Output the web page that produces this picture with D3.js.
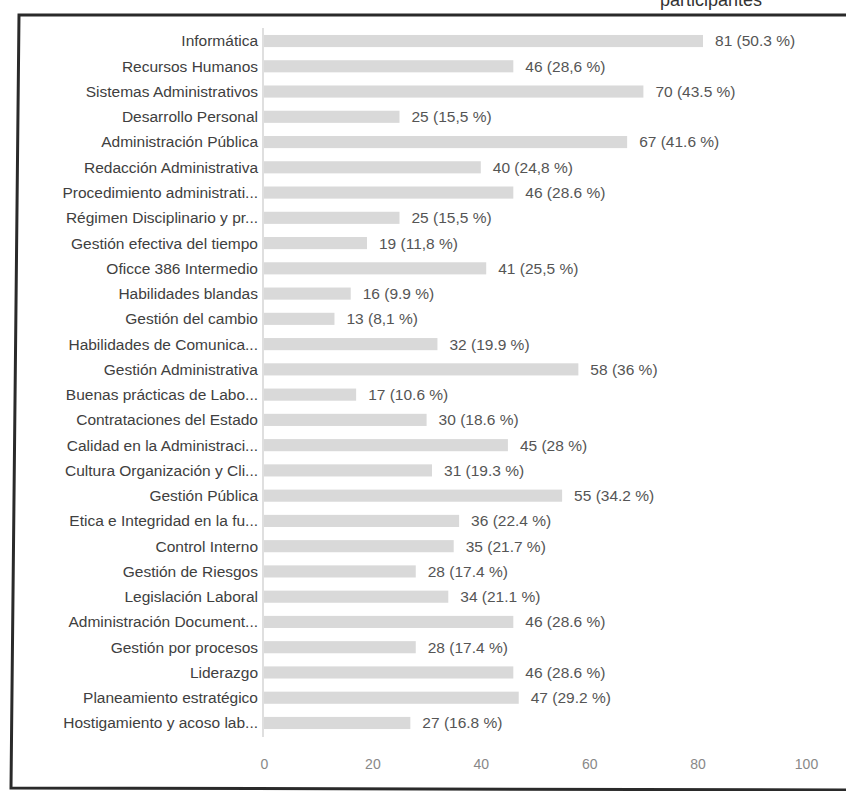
<!DOCTYPE html>
<html>
<head>
<meta charset="utf-8">
<script src="https://cdn.jsdelivr.net/npm/d3@7"></script>
<style>
  html, body { margin: 0; padding: 0; background: #fff; }
  svg { display: block; }
</style>
</head>
<body>
<div id="chart"></div>
<script>
const categories = [
  "Informática", "Recursos Humanos", "Sistemas Administrativos", "Desarrollo Personal",
  "Administración Pública", "Redacción Administrativa", "Procedimiento administrati...",
  "Régimen Disciplinario y pr...", "Gestión efectiva del tiempo", "Oficce 386 Intermedio",
  "Habilidades blandas", "Gestión del cambio", "Habilidades de Comunica...",
  "Gestión Administrativa", "Buenas prácticas de Labo...", "Contrataciones del Estado",
  "Calidad en la Administraci...", "Cultura Organización y Cli...", "Gestión Pública",
  "Etica e Integridad en la fu...", "Control Interno", "Gestión de Riesgos",
  "Legislación Laboral", "Administración Document...", "Gestión por procesos",
  "Liderazgo", "Planeamiento estratégico", "Hostigamiento y acoso lab..."
];
const counts = [81, 46, 70, 25, 67, 40, 46, 25, 19, 41, 16, 13, 32, 58, 17, 30, 45, 31, 55, 36, 35, 28, 34, 46, 28, 46, 47, 27];
const percents = ["50.3", "28,6", "43.5", "15,5", "41.6", "24,8", "28.6", "15,5", "11,8", "25,5", "9.9", "8,1", "19.9", "36", "10.6", "18.6", "28", "19.3", "34.2", "22.4", "21.7", "17.4", "21.1", "28.6", "17.4", "28.6", "29.2", "16.8"];
const tickValues = [0, 20, 40, 60, 80, 100];

const W = 846, H = 791;
const svg = d3.select("#chart").append("svg").attr("width", W).attr("height", H);
const font = "'Liberation Sans', Arial, sans-serif";

// cropped title fragment at the top (scan edge)
svg.append("text").attr("x", 660).attr("y", 6)
  .attr("font-family", font).attr("font-size", 18).attr("fill", "#333")
  .text("participantes");

// scanned frame
svg.append("path")
  .attr("d", "M 852 15 L 19 15 L 11 788 L 852 790")
  .attr("fill", "none").attr("stroke", "#2a2a2a").attr("stroke-width", 3);

const x = d3.scaleLinear().domain([0, 100]).range([264, 806]);
const y = d3.scaleBand().domain(categories).range([28.4, 735.6]).paddingInner(0.52).paddingOuter(0.26);

// vertical baseline
svg.append("line").attr("x1", 263).attr("x2", 263).attr("y1", 28).attr("y2", 737)
  .attr("stroke", "#d4d4d4").attr("stroke-width", 1.5);

const rows = categories.map((c, i) => ({ c, v: counts[i], p: percents[i] }));

svg.append("g").selectAll("rect").data(rows).join("rect")
  .attr("x", x(0)).attr("y", d => y(d.c))
  .attr("width", d => x(d.v) - x(0)).attr("height", y.bandwidth())
  .attr("fill", "#d9d9d9");

svg.append("g").selectAll("text").data(rows).join("text")
  .attr("x", 258).attr("y", d => y(d.c) + y.bandwidth() / 2)
  .attr("dy", "0.35em").attr("text-anchor", "end")
  .attr("font-family", font).attr("font-size", 15.5).attr("fill", "#404040")
  .text(d => d.c);

svg.append("g").selectAll("text").data(rows).join("text")
  .attr("x", d => x(d.v) + 12).attr("y", d => y(d.c) + y.bandwidth() / 2)
  .attr("dy", "0.35em").attr("text-anchor", "start")
  .attr("font-family", font).attr("font-size", 15.5).attr("fill", "#555")
  .text(d => `${d.v} (${d.p} %)`);

const axis = d3.axisBottom(x).tickValues(tickValues).tickSize(0).tickPadding(0);
const gA = svg.append("g").attr("transform", "translate(0,759)").call(axis);
gA.select(".domain").remove();
gA.selectAll("text").attr("font-family", font).attr("font-size", 14).attr("fill", "#888");
</script>
</body>
</html>
